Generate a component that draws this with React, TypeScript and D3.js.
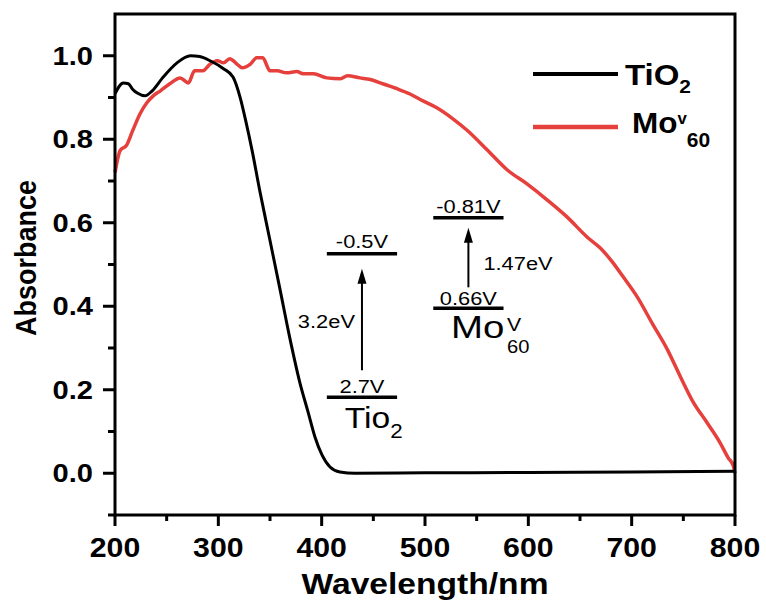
import React from "react";
import * as d3 from "d3";

const tioWl = [200, 208, 213, 217, 222, 229, 236, 246, 260, 273, 282, 292, 305, 314.2, 321, 326.8, 332.6, 340, 349.7, 359.4, 369, 378.7, 386.8, 393.5, 400.3, 408.1, 417.7, 432.3, 500, 600, 700, 800];
const tioAbs = [0.909, 0.935, 0.933, 0.92, 0.91, 0.904, 0.916, 0.947, 0.983, 1.0, 0.998, 0.988, 0.969, 0.949, 0.901, 0.841, 0.774, 0.678, 0.561, 0.444, 0.326, 0.219, 0.147, 0.087, 0.044, 0.015, 0.003, 0.0, 0.001, 0.002, 0.003, 0.005];

const moWl = [200, 205, 211, 217, 224, 231, 237, 244, 253, 263, 271, 277, 285, 292, 299, 305, 311, 318, 323, 331, 337, 343, 350, 357, 366, 376, 382, 392, 405, 418, 425, 437, 447, 459, 473, 485, 498, 511, 527, 541, 560, 579.4, 598.7, 618.1, 637.4, 656.8, 669.4, 682, 691.6, 705.2, 720.6, 734.2, 746.8, 759.4, 773, 785.6, 793.4, 798.3, 800];
const moAbs = [0.72, 0.773, 0.785, 0.82, 0.86, 0.888, 0.904, 0.916, 0.933, 0.947, 0.935, 0.964, 0.964, 0.98, 0.988, 0.983, 0.993, 0.98, 0.971, 0.98, 0.995, 0.995, 0.964, 0.964, 0.959, 0.962, 0.957, 0.957, 0.947, 0.945, 0.952, 0.947, 0.943, 0.933, 0.921, 0.909, 0.892, 0.876, 0.849, 0.821, 0.775, 0.727, 0.693, 0.655, 0.614, 0.566, 0.54, 0.504, 0.471, 0.423, 0.356, 0.298, 0.233, 0.171, 0.121, 0.073, 0.037, 0.018, 0.0];

const xMajor = [200, 300, 400, 500, 600, 700, 800];
const xMinor = [250, 350, 450, 550, 650, 750];
const yMajor = [0, 0.2, 0.4, 0.6, 0.8, 1.0];
const yMinor = [-0.1, 0.1, 0.3, 0.5, 0.7, 0.9];

// band diagram levels
const tioBand = { wl0: 405, wl1: 473, cb: 0.526, vb: 0.182, cbLabel: "-0.5V", vbLabel: "2.7V", gap: "3.2eV" };
const moBand = { wl0: 508, wl1: 576, cb: 0.612, vb: 0.395, cbLabel: "-0.81V", vbLabel: "0.66V", gap: "1.47eV" };

const RED = "#e6403d";
const FONT = "'Liberation Sans', Arial, sans-serif";

const x = d3.scaleLinear().domain([200, 800]).range([115, 735]);
const y = d3.scaleLinear().domain([-0.1, 1.1]).range([515, 14]);

function T(props: any) {
  const { x: px, y: py, anchor = "start", size, weight = "normal", sx = 1.12, children } = props;
  return (
    <text
      transform={`translate(${px},${py}) scale(${sx},1)`}
      textAnchor={anchor}
      fontSize={size}
      fontWeight={weight}
      fontFamily={FONT}
      fill="#000"
    >
      {children}
    </text>
  );
}

function Arrow({ xp, y0, y1 }: { xp: number; y0: number; y1: number }) {
  return (
    <g>
      <line x1={xp} x2={xp} y1={y0} y2={y1 + 12} stroke="#000" strokeWidth={2} />
      <path d={`M${xp},${y1} L${xp - 4.5},${y1 + 15} L${xp + 4.5},${y1 + 15} Z`} fill="#000" />
    </g>
  );
}

export default function App() {
  const line = d3
    .line<[number, number]>()
    .x((d) => x(d[0]))
    .y((d) => y(d[1]))
    .curve(d3.curveMonotoneX);
  const tioPts = tioWl.map((w, i) => [w, tioAbs[i]] as [number, number]);
  const moPts = moWl.map((w, i) => [w, moAbs[i]] as [number, number]);

  const [x0, x1] = x.range();
  const [yb, yt] = y.range();

  const tc = (x(tioBand.wl0) + x(tioBand.wl1)) / 2;
  const mc = (x(moBand.wl0) + x(moBand.wl1)) / 2;

  return (
    <svg width={766} height={605} style={{ position: "absolute", left: 0, top: 0, background: "#fff" }}>
      <rect width={766} height={605} fill="#fff" />
      {/* data */}
      <path d={line(moPts) || ""} fill="none" stroke={RED} strokeWidth={3.5} strokeLinejoin="round" />
      <path d={line(tioPts) || ""} fill="none" stroke="#000" strokeWidth={3} strokeLinejoin="round" />

      {/* frame */}
      <rect x={x0} y={yt} width={x1 - x0} height={yb - yt} fill="none" stroke="#000" strokeWidth={3} />

      {/* x ticks */}
      {xMajor.map((v) => (
        <line key={"xm" + v} x1={x(v)} x2={x(v)} y1={yb} y2={yb + 11} stroke="#000" strokeWidth={3} />
      ))}
      {xMinor.map((v) => (
        <line key={"xn" + v} x1={x(v)} x2={x(v)} y1={yb} y2={yb + 6} stroke="#000" strokeWidth={3} />
      ))}
      {xMajor.map((v) => (
        <T key={"xl" + v} x={x(v)} y={557} anchor="middle" size={28} weight="bold" sx={1.08}>
          {v}
        </T>
      ))}

      {/* y ticks */}
      {yMajor.map((v) => (
        <line key={"ym" + v} x1={x0 - 12} x2={x0} y1={y(v)} y2={y(v)} stroke="#000" strokeWidth={3} />
      ))}
      {yMinor.map((v) => (
        <line key={"yn" + v} x1={x0 - 7} x2={x0} y1={y(v)} y2={y(v)} stroke="#000" strokeWidth={3} />
      ))}
      {yMajor.map((v) => (
        <T key={"yl" + v} x={93} y={y(v) + 9} anchor="end" size={26} weight="bold" sx={1.12}>
          {d3.format(".1f")(v)}
        </T>
      ))}

      {/* axis titles */}
      <T x={425} y={594} anchor="middle" size={30} weight="bold" sx={1.12}>
        Wavelength/nm
      </T>
      <text
        transform={`translate(36,258) rotate(-90) scale(1,1.12)`}
        textAnchor="middle"
        fontSize={27}
        fontWeight="bold"
        fontFamily={FONT}
      >
        Absorbance
      </text>

      {/* legend */}
      <line x1={533} x2={618} y1={74} y2={74} stroke="#000" strokeWidth={4} />
      <T x={625} y={85} size={30} weight="bold" sx={1.1}>
        TiO
        <tspan fontSize={19} dy={8}>2</tspan>
      </T>
      <line x1={533} x2={618} y1={127} y2={127} stroke={RED} strokeWidth={4.5} />
      <T x={632} y={133} size={30} weight="bold" sx={1.05}>
        Mo
        <tspan fontSize={16} dy={-9}>v</tspan>
        <tspan fontSize={20} dy={23}>60</tspan>
      </T>

      {/* TiO2 band diagram */}
      <line x1={x(tioBand.wl0)} x2={x(tioBand.wl1)} y1={y(tioBand.cb)} y2={y(tioBand.cb)} stroke="#000" strokeWidth={3.5} />
      <line x1={x(tioBand.wl0)} x2={x(tioBand.wl1)} y1={y(tioBand.vb)} y2={y(tioBand.vb)} stroke="#000" strokeWidth={3.5} />
      <T x={tc} y={y(tioBand.cb) - 6} anchor="middle" size={19} sx={1.15}>{tioBand.cbLabel}</T>
      <T x={tc} y={y(tioBand.vb) - 4} anchor="middle" size={19} sx={1.15}>{tioBand.vbLabel}</T>
      <Arrow xp={tc} y0={y(tioBand.vb) - 27} y1={y(tioBand.cb) + 15} />
      <T x={tc - 7} y={328} anchor="end" size={19} sx={1.15}>{tioBand.gap}</T>
      <T x={x(tioBand.wl0) + 18} y={428} size={30} sx={1.12}>
        Tio
        <tspan fontSize={20} dy={10}>2</tspan>
      </T>

      {/* Mo band diagram */}
      <line x1={x(moBand.wl0)} x2={x(moBand.wl1)} y1={y(moBand.cb)} y2={y(moBand.cb)} stroke="#000" strokeWidth={3.5} />
      <line x1={x(moBand.wl0)} x2={x(moBand.wl1)} y1={y(moBand.vb)} y2={y(moBand.vb)} stroke="#000" strokeWidth={3.5} />
      <T x={mc} y={y(moBand.cb) - 5} anchor="middle" size={19} sx={1.15}>{moBand.cbLabel}</T>
      <T x={mc} y={y(moBand.vb) - 3} anchor="middle" size={19} sx={1.15}>{moBand.vbLabel}</T>
      <Arrow xp={mc} y0={y(moBand.vb) - 21} y1={y(moBand.cb) + 10} />
      <T x={mc + 15} y={270} size={19} sx={1.15}>{moBand.gap}</T>
      <T x={451} y={338} size={32} sx={1.2}>Mo</T>
      <T x={507} y={331} size={19} sx={1.12}>V</T>
      <T x={507} y={353} size={18} sx={1.12}>60</T>
    </svg>
  );
}
